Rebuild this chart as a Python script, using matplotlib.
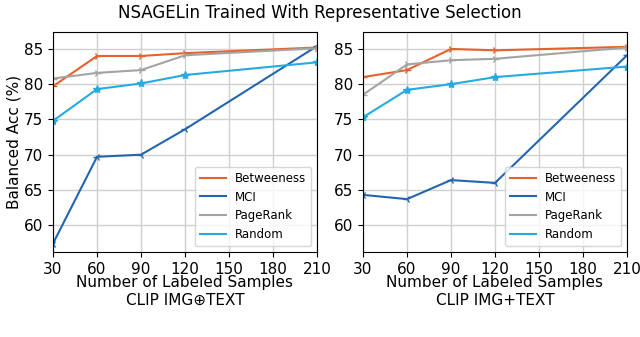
import numpy as np
import matplotlib.pyplot as plt
from matplotlib.lines import Line2D

samples = [30, 60, 90, 120, 210]
methods = ["Betweeness", "MCI", "PageRank", "Random"]

# CLIP IMG(+)TEXT (left panel)
left_betweeness = [79.7, 84.0, 84.0, 84.4, 85.2]
left_mci = [57.4, 69.7, 70.0, 73.6, 85.4]
left_pagerank = [80.8, 81.6, 82.0, 84.1, 85.1]
left_random = [74.8, 79.3, 80.1, 81.3, 83.1]

# CLIP IMG+TEXT (right panel)
right_betweeness = [81.0, 82.0, 85.0, 84.8, 85.3]
right_mci = [64.3, 63.7, 66.4, 66.0, 84.1]
right_pagerank = [78.5, 82.8, 83.4, 83.6, 85.2]
right_random = [75.3, 79.2, 80.0, 81.0, 82.5]

colors = ["#e5622b", "#2267ad", "#a3a3a3", "#27aae1"]
markers = ["4", "3", "4", "*"]

panels = [
    ("CLIP IMG\u2295TEXT", [left_betweeness, left_mci, left_pagerank, left_random]),
    ("CLIP IMG+TEXT", [right_betweeness, right_mci, right_pagerank, right_random]),
]

fig = plt.figure(figsize=(6.4, 3.37), dpi=100)
fig.text(0.5, 0.962, "NSAGELin Trained With Representative Selection",
         ha="center", va="center", fontsize=12)

axes_pos = [[53 / 640, 1 - 252 / 337, 264 / 640, 220 / 337],
            [363 / 640, 1 - 252 / 337, 264 / 640, 220 / 337]]

for i, (pos, (name, series)) in enumerate(zip(axes_pos, panels)):
    ax = fig.add_axes(pos)
    for vals, c, m in zip(series, colors, markers):
        ax.plot(samples, vals, color=c, marker=m, markersize=6,
                markeredgewidth=1.0, linewidth=1.5)
    ax.set_xlim(30, 210)
    ax.set_ylim(56.2, 87.4)
    ax.set_xticks([30, 60, 90, 120, 150, 180, 210])
    ax.set_yticks([60, 65, 70, 75, 80, 85])
    ax.grid(True, color="#d0d0d0", linewidth=1.0)
    ax.tick_params(labelsize=11)
    ax.set_xlabel("Number of Labeled Samples\n" + name, fontsize=11, labelpad=-1,
                  linespacing=1.2)
    handles = [Line2D([0], [0], color=c, linewidth=1.5) for c in colors]
    ax.legend(handles, methods, loc="lower right", fontsize=8.5,
              handlelength=2.2, borderaxespad=0.5)
    if i == 0:
        ax.set_ylabel("Balanced Acc (%)", fontsize=11, labelpad=2)

fig.savefig("out.png", dpi=100)
